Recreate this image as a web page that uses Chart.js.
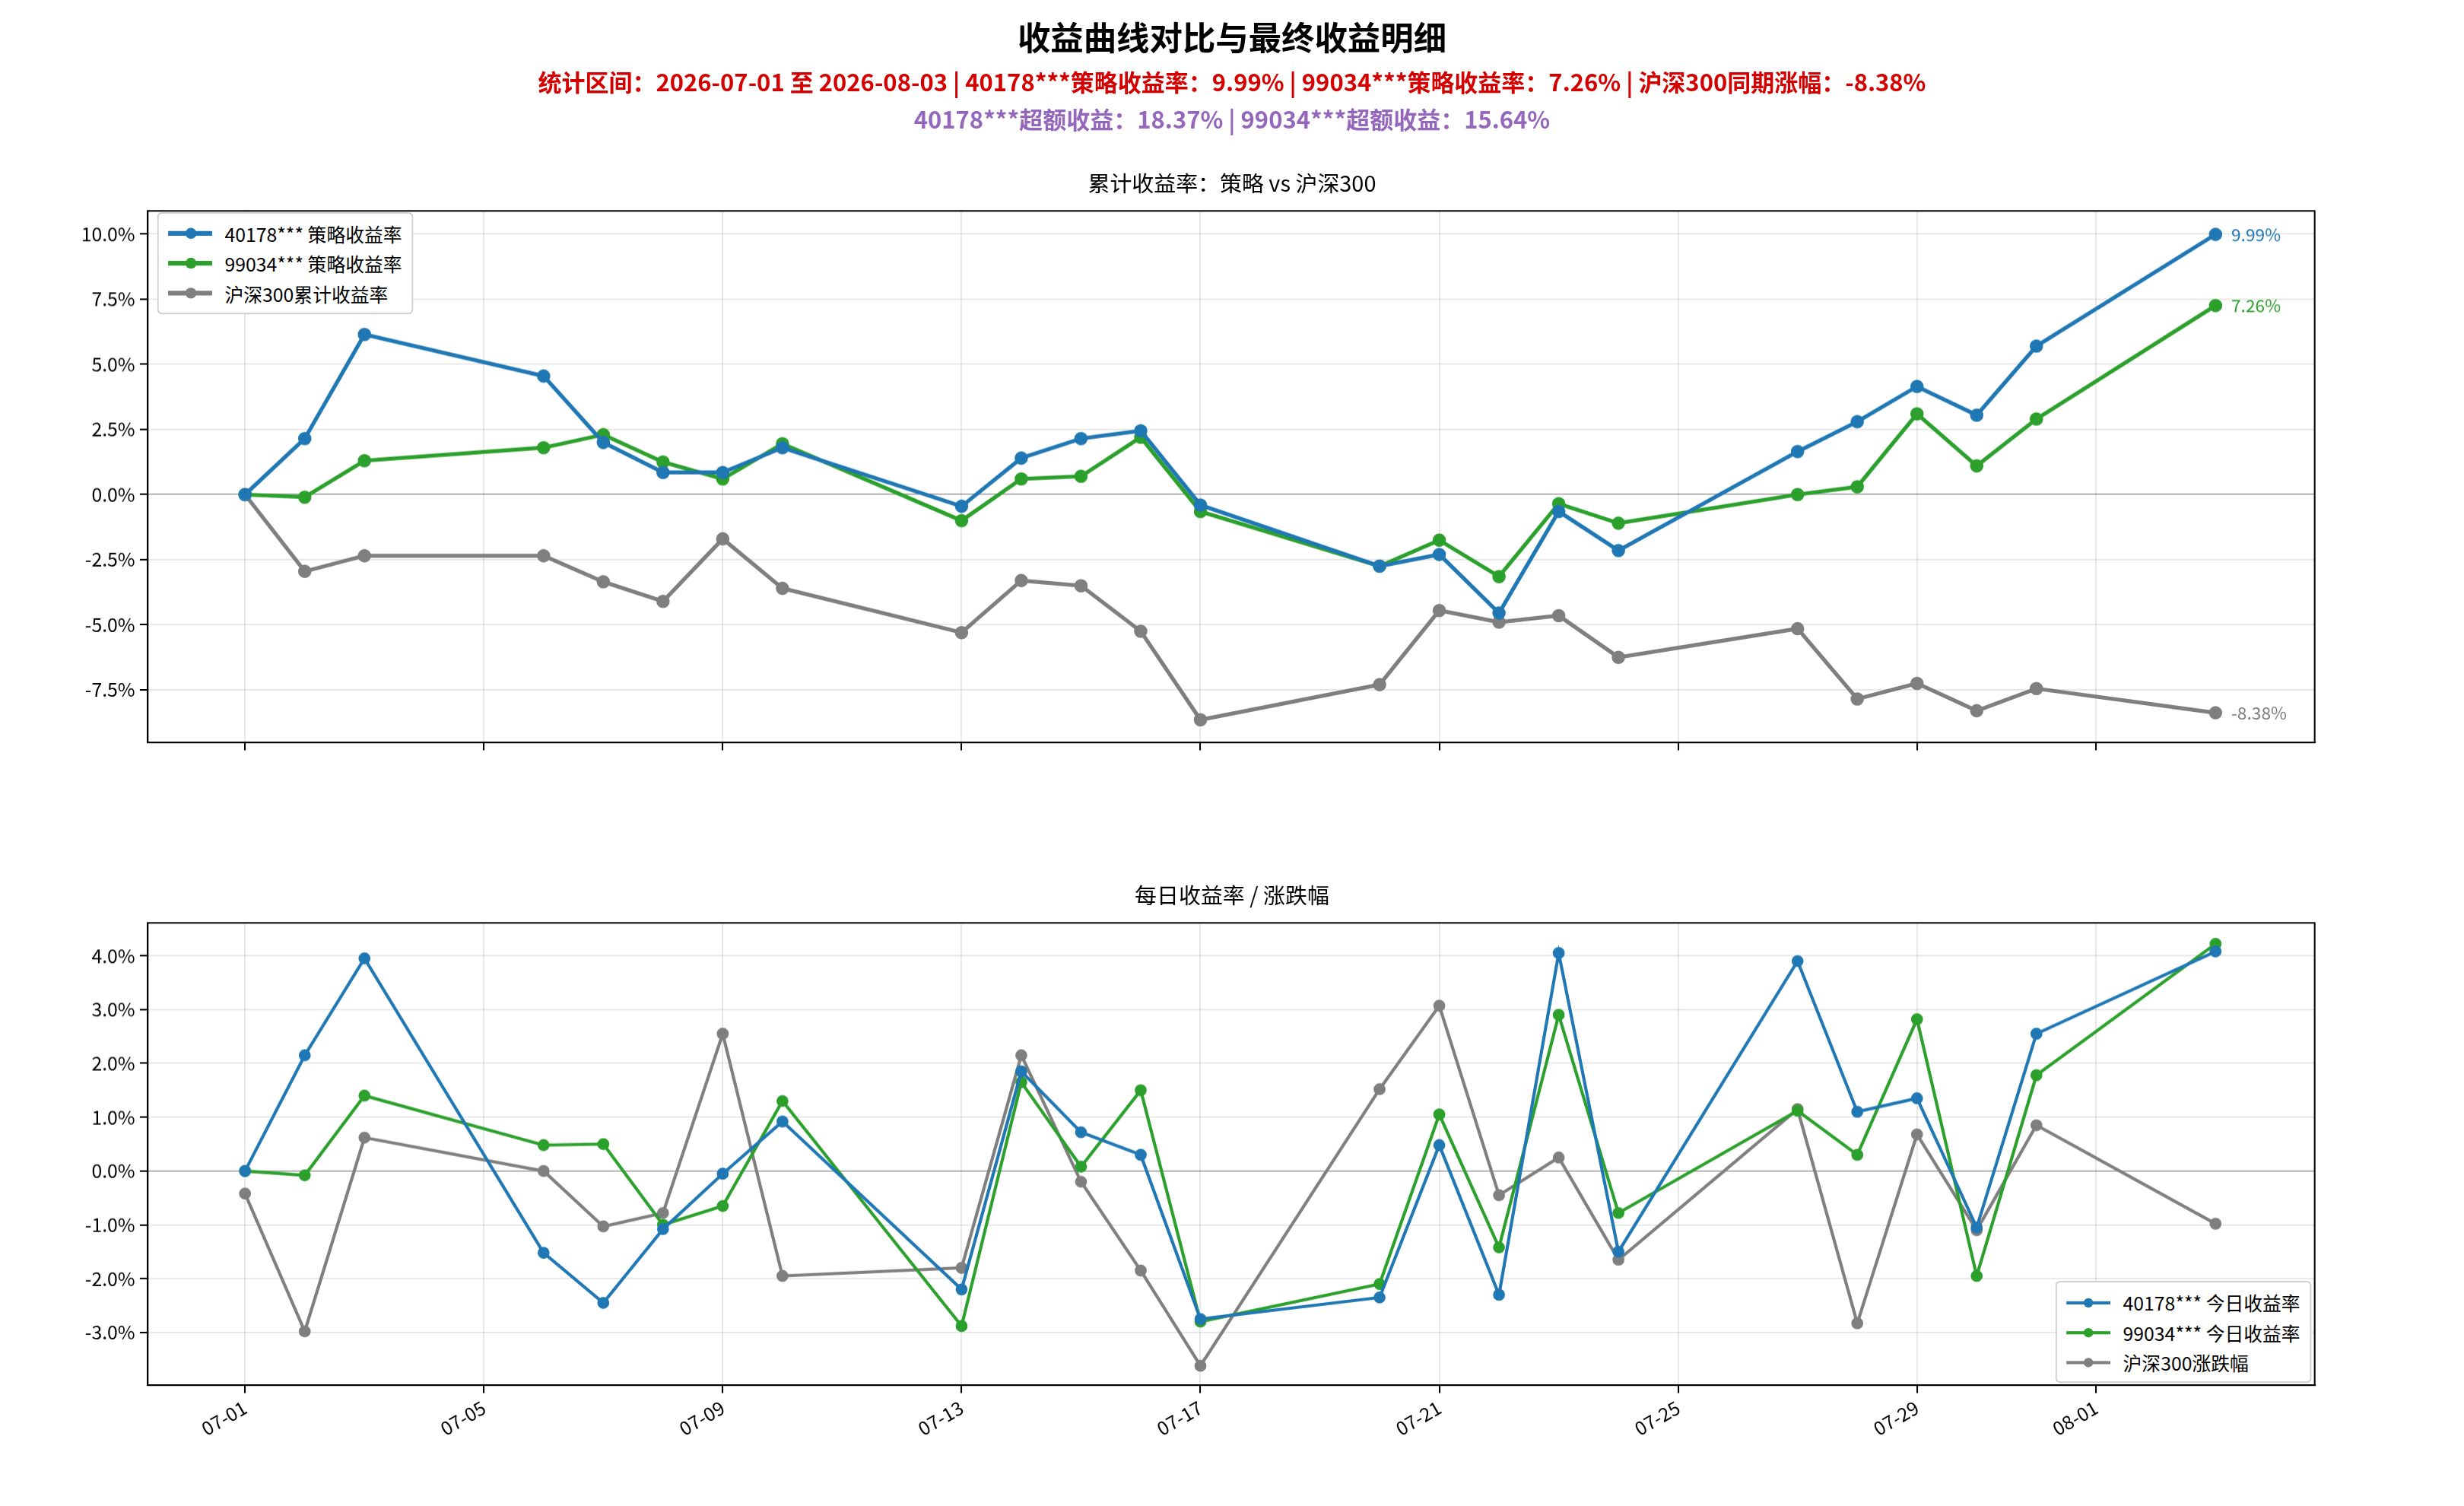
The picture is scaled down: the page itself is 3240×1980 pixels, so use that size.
<!DOCTYPE html>
<html><head><meta charset="utf-8">
<script src="https://cdn.jsdelivr.net/npm/chart.js@4"></script>
<style>
html,body{margin:0;padding:0;background:#fff;overflow:hidden}
#wrap{position:absolute;left:0;top:0;width:1568px;height:958px;transform:scale(2.0663);transform-origin:0 0;font-family:"Noto Sans CJK SC","Noto Sans",sans-serif}
.t{position:absolute;left:0;width:1568px;text-align:center;font-weight:bold}
canvas{position:absolute;left:0}
.lg{position:absolute;background:#fff;border:1px solid #d0d0d0;border-radius:3px;font-size:12px;padding:3px 6px}
.lg div{height:19px;line-height:19px;display:flex;align-items:center}
.lg i{display:inline-block;width:28px;height:2.5px;margin-right:8px;position:relative}
.lg i b{position:absolute;left:11px;top:-2.5px;width:7px;height:7px;border-radius:50%}
.st{position:absolute;left:0;width:1568px;text-align:center;font-size:14px}
</style></head><body>
<div id="wrap">
<div class="t" style="top:8px;font-size:21px;color:#000">收益曲线对比与最终收益明细</div>
<div class="t" style="top:41px;font-size:15px;color:#d40000">统计区间：2026-07-01 至 2026-08-03 | 40178***策略收益率：9.99% | 99034***策略收益率：7.26% | 沪深300同期涨幅：-8.38%</div>
<div class="t" style="top:65px;font-size:15px;color:#9467bd">40178***超额收益：18.37% | 99034***超额收益：15.64%</div>
<div class="st" style="top:106px;left:0">累计收益率：策略 vs 沪深300</div>
<div class="st" style="top:559px;left:0">每日收益率 / 涨跌幅</div>
<canvas id="c1" width="1568" height="360" style="top:124px"></canvas>
<canvas id="c2" width="1568" height="344" style="top:577px"></canvas>
<div class="lg" style="left:100px;top:135px">
<div><i style="background:#1f77b4"><b style="background:#1f77b4"></b></i>40178*** 策略收益率</div>
<div><i style="background:#2ca02c"><b style="background:#2ca02c"></b></i>99034*** 策略收益率</div>
<div><i style="background:#7f7f7f"><b style="background:#7f7f7f"></b></i>沪深300累计收益率</div>
</div>
<div class="lg" style="left:1308px;top:815px">
<div><i style="background:#1f77b4;height:2px"><b style="background:#1f77b4;width:6px;height:6px;top:-2px"></b></i>40178*** 今日收益率</div>
<div><i style="background:#2ca02c;height:2px"><b style="background:#2ca02c;width:6px;height:6px;top:-2px"></b></i>99034*** 今日收益率</div>
<div><i style="background:#7f7f7f;height:2px"><b style="background:#7f7f7f;width:6px;height:6px;top:-2px"></b></i>沪深300涨跌幅</div>
</div>
</div>
<script>
const dates=['07-01','07-02','07-03','07-06','07-07','07-08','07-09','07-10','07-13','07-14','07-15','07-16','07-17','07-20','07-21','07-22','07-23','07-24','07-27','07-28','07-29','07-30','07-31','08-03'];
const cumA=[0,2.15,6.15,4.55,2.0,0.85,0.85,1.8,-0.45,1.4,2.15,2.45,-0.4,-2.75,-2.3,-4.55,-0.65,-2.15,1.65,2.8,4.15,3.05,5.7,9.99];
const cumB=[0,-0.1,1.3,1.8,2.3,1.25,0.6,1.95,-1.0,0.6,0.7,2.2,-0.65,-2.75,-1.75,-3.15,-0.35,-1.1,0.0,0.3,3.1,1.1,2.9,7.26];
const cumI=[0,-2.95,-2.35,-2.35,-3.35,-4.1,-1.7,-3.6,-5.3,-3.3,-3.5,-5.25,-8.65,-7.3,-4.45,-4.9,-4.65,-6.25,-5.15,-7.85,-7.25,-8.3,-7.45,-8.38];
const dayA=[0,2.15,3.95,-1.52,-2.45,-1.08,-0.05,0.92,-2.2,1.85,0.72,0.3,-2.75,-2.35,0.48,-2.3,4.05,-1.5,3.9,1.1,1.35,-1.05,2.55,4.08];
const dayB=[0,-0.08,1.4,0.48,0.5,-1.0,-0.65,1.3,-2.88,1.65,0.08,1.5,-2.8,-2.1,1.05,-1.42,2.9,-0.78,1.12,0.3,2.82,-1.95,1.78,4.22];
const dayI=[-0.42,-2.98,0.62,0.0,-1.03,-0.78,2.55,-1.95,-1.8,2.15,-0.2,-1.85,-3.62,1.52,3.07,-0.45,0.25,-1.65,1.15,-2.83,0.68,-1.1,0.85,-0.98];
const tickDays=[0,4,8,12,16,20,24,28,31];
const tickLabels=['07-01','07-05','07-09','07-13','07-17','07-21','07-25','07-29','08-01'];
const dayIdx=d=>{const [m,dd]=d.split('-').map(Number);return m===7?dd-1:30+dd;};
const xs=dates.map(dayIdx);
const font={family:'"Noto Sans CJK SC","Noto Sans",sans-serif',size:12};
const DPR=2.0663;
function ds(data,color,lw){return{data:data.map((v,i)=>({x:xs[i],y:v})),borderColor:color,backgroundColor:color,borderWidth:lw,pointRadius:lw>2?3:2.8,pointHoverRadius:3,tension:0};}
function xScale(showLabels,h){return{type:'linear',min:-1.63,max:34.66,
 afterBuildTicks:s=>{s.ticks=tickDays.map(v=>({value:v}));},
 afterFit:s=>{s.height=h;},
 grid:{color:'rgba(0,0,0,0.09)',drawTicks:true,tickLength:5,tickColor:'#000'},border:{color:'#000'},
 ticks:{display:showLabels,color:'#000',font,minRotation:30,maxRotation:30,padding:2,callback:v=>{const k=tickDays.indexOf(v);return k>=0?tickLabels[k]:'';}}};}
function yScale(min,max,step,fmt){return{min,max,afterFit:s=>{s.width=94;},
 afterBuildTicks:s=>{const t=[];for(let v=Math.ceil(min/step)*step;v<=max+1e-9;v+=step)t.push({value:+v.toFixed(3)});s.ticks=t;},
 grid:{color:c=>c.tick&&Math.abs(c.tick.value)<1e-9?'rgba(0,0,0,0.3)':'rgba(0,0,0,0.09)',tickLength:5,tickColor:'#000'},border:{color:'#000'},
 ticks:{color:'#000',font,padding:3,callback:v=>v.toFixed(fmt)+'%'}};}
const endLabels={id:'endLabels',afterDatasetsDraw(ch){const ctx=ch.ctx;ctx.save();ctx.font='11px "Noto Sans CJK SC",sans-serif';ctx.textBaseline='middle';
 ch.data.datasets.forEach((d,i)=>{const m=ch.getDatasetMeta(i);const p=m.data[m.data.length-1];ctx.fillStyle=d.borderColor;ctx.fillText(d.data[d.data.length-1].y.toFixed(2)+'%',p.x+10,p.y);});ctx.restore();}};
const frame={id:'frame',afterDraw(ch){const a=ch.chartArea,c=ch.ctx;c.save();c.strokeStyle='#000';c.lineWidth=1;c.strokeRect(a.left,a.top,a.right-a.left,a.bottom-a.top);c.restore();}};
const common={responsive:false,animation:false,devicePixelRatio:DPR,plugins:{legend:{display:false},tooltip:{enabled:false}}};
new Chart(document.getElementById('c1'),{type:'line',data:{datasets:[ds(cumA,'#1f77b4',2.5),ds(cumB,'#2ca02c',2.5),ds(cumI,'#7f7f7f',2.5)]},
 options:{...common,layout:{padding:{top:5,right:95,left:0,bottom:0}},scales:{x:xScale(false,12),y:yScale(-9.52,10.89,2.5,1)}},plugins:[endLabels,frame]});
new Chart(document.getElementById('c2'),{type:'line',data:{datasets:[ds(dayA,'#1f77b4',2),ds(dayB,'#2ca02c',2),ds(dayI,'#7f7f7f',2)]},
 options:{...common,layout:{padding:{top:5,right:95,left:0,bottom:0}},scales:{x:xScale(true,40),y:yScale(-3.98,4.61,1,1)}},plugins:[frame]});
</script>
</body></html>
